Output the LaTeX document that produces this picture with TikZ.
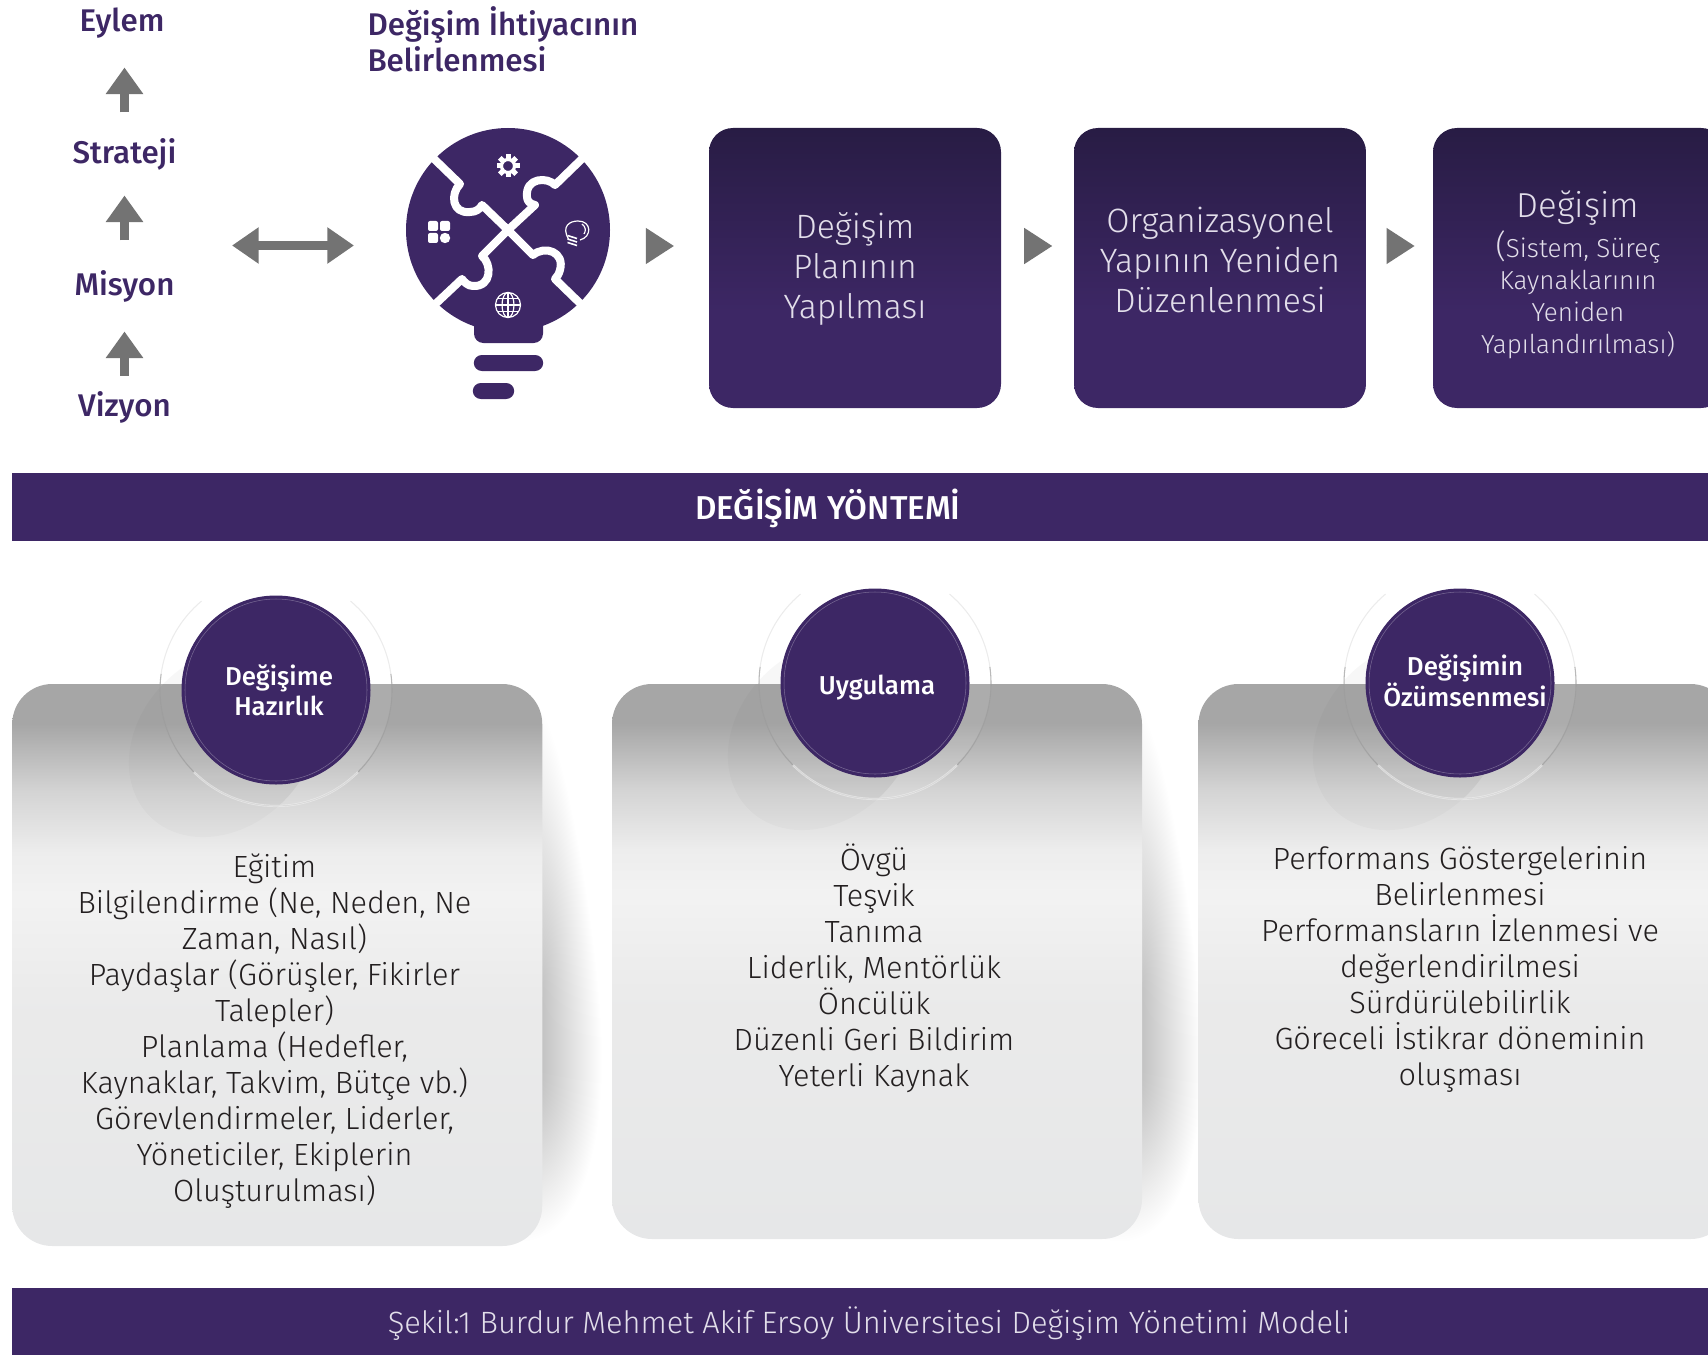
\documentclass[tikz,border=0pt]{standalone}
\usepackage{fontspec}
\setmainfont{Fira Sans Light}[BoldFont={Fira Sans Medium}]
\usetikzlibrary{arrows.meta}
\definecolor{morkoyu}{RGB}{61,39,101}
\definecolor{morkoyutop}{RGB}{40,28,68}
\definecolor{okgri}{RGB}{115,115,115}
\definecolor{yazisiyah}{RGB}{35,31,32}
\definecolor{kutuyazi}{RGB}{226,222,234}
\definecolor{kartalt}{RGB}{230,231,232}
\pgfdeclareverticalshading{kartgolge}{100bp}{color(0bp)=(kartalt); color(25bp)=(kartalt); color(47bp)=(black!8); color(56bp)=(black!5); color(60bp)=(black!7); color(65.5bp)=(black!17); color(71.5bp)=(black!35); color(75bp)=(black!35); color(100bp)=(black!35)}
\pgfdeclareverticalshading{kutugolge}{100bp}{color(0bp)=(morkoyu); color(42bp)=(morkoyu); color(75bp)=(morkoyutop); color(100bp)=(morkoyutop)}
\tikzset{
  every picture/.style={line width=0.75pt},
  kutu/.style={rounded corners=18pt,shading=kutugolge,minimum width=219pt,minimum height=210pt,inner sep=0pt},
  kart/.style={rounded corners=30pt,shading=kartgolge,inner sep=0pt},
  serit/.style={fill=morkoyu,inner sep=0pt},
  kutuyazisi/.style={align=center,text=kutuyazi,inner sep=0pt,font=\fontsize{25.3}{30}\selectfont},
  kartyazisi/.style={align=center,text=yazisiyah,inner sep=0pt,font=\fontsize{23}{27}\selectfont},
  baslik/.style={text=morkoyu,inner sep=0pt,font=\fontsize{23.5}{27}\selectfont\bfseries,text height=15pt,text depth=6pt},
  diskyazi/.style={align=center,text=white,inner sep=0pt,font=\fontsize{19.4}{22.5}\selectfont\bfseries},
  disk/.style={circle,fill=morkoyu,draw=morkoyu,minimum size=141pt,inner sep=0pt},
  yukariok/.style={draw=okgri,line width=7pt,-{Triangle[length=20pt,width=27pt]}},
  adimok/.style={draw=okgri,line width=1pt,-{Triangle[length=21pt,width=27pt]}},
  ikiyonok/.style={draw=okgri,line width=7pt,{Triangle[length=20pt,width=26pt]}-{Triangle[length=20pt,width=26pt]}},
  ikon/.style={white,line width=0.9pt}
}
\begin{document}
\begin{tikzpicture}[x=0.75pt,y=0.75pt,yscale=-1,xscale=1]
\useasboundingbox (0,0) rectangle (1708,1355);

% kart golgeleri
\foreach \sx in {0,600}{
  \foreach \w in {1,2,...,60}{
    \fill[black,opacity=0.0055] (530+\sx,1000-5*\w) .. controls (542+\sx+0.3*\w,1000-5*\w) and (542+\sx+\w,950) .. (542+\sx+\w,1060) .. controls (542+\sx+\w,1080+1.5*\w) and (540+\sx+0.5*\w,1110+2.5*\w) .. (500+\sx,1100+2.3*\w) -- cycle;
  }
}

% kartlar
\node[kart,minimum width=397.5pt,minimum height=421.5pt] (kartA) at (277.25,965) {};
\node[kart,minimum width=397.5pt,minimum height=416.25pt] (kartB) at (877,961.5) {};
\node[kart,minimum width=399pt,minimum height=416.25pt] (kartC) at (1464.5,961.5) {};

% diskler ve halkalar
\foreach \cx/\cy/\nm in {276/690/A,875/683/B,1460/683/C}{
  \begin{scope}
    \clip (\cx-200,684) rectangle (\cx+200,\cy+200);
    \fill[black,opacity=0.02,rotate around={-45:(\cx-52,\cy+52)}] (\cx-52,\cy+52) ellipse [x radius=105,y radius=84];
  \end{scope}
  \begin{scope}
    \clip (\cx,\cy) circle [radius=116];
    \fill[black,opacity=0.035,rotate around={-45:(\cx-52,\cy+52)}] (\cx-52,\cy+52) ellipse [x radius=105,y radius=84];
    \fill[white,opacity=0.08] (\cx-120,\cy-120) rectangle (\cx+120,\cy+120);
  \end{scope}
  \draw[black!30,opacity=0.25,line width=0.8pt] (\cx,\cy) ++(-50:116) arc [start angle=-50,end angle=230,radius=116];
  \draw[black!40,opacity=0.6,line width=0.8pt] (\cx,\cy) ++(-8:116) arc [start angle=-8,end angle=188,radius=116];
  \draw[white,opacity=0.55,line width=1.6pt] (\cx,\cy) ++(45:116) arc [start angle=45,end angle=135,radius=116];
  \node[disk] (disk\nm) at (\cx,\cy) {};
  \draw[white,opacity=0.3,line width=0.4pt] (\cx,\cy) circle [radius=91];
}
\node[diskyazi] (hazirlik) at (279,690) {Değişime\\Hazırlık};
\node[diskyazi] (uygulama) at (877,688) {Uygulama};
\node[diskyazi] (ozumseme) at (1465,681) {Değişimin\\Özümsenmesi};

% kart yazilari
\node[kartyazisi] (yaziA) at (274.5,1031) {Eğitim\\Bilgilendirme (Ne, Neden, Ne\\Zaman, Nasıl)\\Paydaşlar (Görüşler, Fikirler\\Talepler)\\Planlama (Hedefler,\\Kaynaklar, Takvim, Bütçe vb.)\\Görevlendirmeler, Liderler,\\Yöneticiler, Ekiplerin\\Oluşturulması)};
\node[kartyazisi] (yaziB) at (874,968) {Övgü\\Teşvik\\Tanıma\\Liderlik, Mentörlük\\Öncülük\\Düzenli Geri Bildirim\\Yeterli Kaynak};
\node[kartyazisi] (yaziC) at (1460,969) {Performans Göstergelerinin\\Belirlenmesi\\Performansların İzlenmesi ve\\değerlendirilmesi\\Sürdürülebilirlik\\Göreceli İstikrar döneminin\\oluşması};

% seritler
\node[serit,minimum width=1272pt,minimum height=51pt] (seritA) at (860,507) {};
\node[serit,minimum width=1272pt,minimum height=50.25pt] (seritB) at (860,1321.5) {};
\node[text=white,inner sep=0pt,font=\fontsize{24.8}{28}\selectfont\bfseries] (yontem) at (828,508) {DEĞİŞİM YÖNTEMİ};
\node[text=kutuyazi,inner sep=0pt,font=\fontsize{23.1}{27}\selectfont] (sekil) at (869,1324) {Şekil:1 Burdur Mehmet Akif Ersoy Üniversitesi Değişim Yönetimi Modeli};

% ust kutular
\node[kutu] (planlama) at (855,268) {};
\node[kutu] (yapi) at (1220,268) {};
\node[kutu] (degisim) at (1579,268) {};
\node[kutuyazisi] (planyazi) at (855,269) {Değişim\\Planının\\Yapılması};
\node[kutuyazisi] (yapiyazi) at (1220,260) {Organizasyonel\\Yapının Yeniden\\Düzenlenmesi};
\node[kutuyazisi,font=\fontsize{26}{30}\selectfont] (degisimyazi) at (1578,208) {Değişim};
\node[kutuyazisi,font=\fontsize{19.5}{24}\selectfont] (degisimalt) at (1578,295) {{\fontsize{24}{24}\selectfont(}Sistem, Süreç\\Kaynaklarının\\Yeniden\\Yapılandırılması)};

% sol sutun
\node[baslik] (eylem) at (122,26) {Eylem};
\node[baslik] (strateji) at (124.5,158) {Strateji};
\node[baslik] (misyon) at (124.5,289) {Misyon};
\node[baslik] (vizyon) at (124.5,410) {Vizyon};
\draw[yukariok,shorten <=15pt,shorten >=21pt] (vizyon.north) -- (misyon.south);
\draw[yukariok,shorten <=25.5pt,shorten >=17.25pt] (misyon.north) -- (strateji.south);
\draw[yukariok,shorten <=23.25pt,shorten >=20.25pt] (strateji.north) -- (eylem.south -| strateji.north);
\node[baslik,anchor=west,align=left,text height=,text depth=] (ihtiyac) at (367,39) {Değişim İhtiyacının\\Belirlenmesi};

% ampul
\node[circle,fill=morkoyu,minimum size=153pt,inner sep=0pt] (ampul) at (508,230) {};
\fill[morkoyu,rounded corners=7pt] (474,315) -- (543,315) -- (543,343) -- (474,343) -- cycle;
\node[fill=morkoyu,rounded corners=6pt,minimum width=52pt,minimum height=12pt,inner sep=0pt] (duy) at (508.5,363) {};
\node[fill=morkoyu,rounded corners=6pt,minimum width=31pt,minimum height=12pt,inner sep=0pt] (uc) at (493.5,391) {};
\begin{scope}[shift={(0,2)}]
\draw[white,line width=6pt,line join=round] (428,151) -- (460,182) .. controls (450,192) and (452,212) .. (470,210) .. controls (476,210) and (480,207) .. (482,203) -- (508,228);
\draw[white,line width=6pt,line join=round] (588,151) -- (555,183) .. controls (548,175) and (525,175) .. (527,195) .. controls (527,199) and (530,202) .. (535,203) -- (508,228);
\draw[white,line width=6pt,line join=round] (508,228) -- (533,253) .. controls (545,243) and (565,250) .. (560,268) .. controls (559,272) and (557,275) .. (555,277) -- (588,309);
\draw[white,line width=6pt,line join=round] (508,228) -- (482,254) .. controls (492,262) and (492,285) .. (473,284) .. controls (468,284) and (464,280) .. (462,277) -- (428,309);

% ikonlar
\draw[ikon,line width=2.4pt] (508,164) circle [radius=6.5];
\foreach \a in {0,45,...,315}{
  \fill[white,rotate around={\a:(508,164)}] (505.5,152.5) rectangle (510.5,157);
}
\fill[white,rounded corners=1.5pt] (428,219) rectangle (438,229);
\fill[white,rounded corners=1.5pt] (440,219) rectangle (450,229);
\fill[white,rounded corners=1.5pt] (428,231) rectangle (438,241);
\fill[white] (445,236) circle [radius=5.2];
\draw[ikon] (568.5,237) .. controls (561,224) and (570,219) .. (578,219) .. controls (592,219) and (592,235) .. (580,238);
\draw[ikon] (582,222) .. controls (586,225) and (586,229) .. (584,232);
\foreach \k in {0,3.5,7}{
  \draw[ikon,line width=1.2pt] (567.5,233.5+\k) -- (577,236.5+\k);
}
\draw[ikon] (508,303) circle [radius=12.5];
\draw[ikon] (508,303) ellipse [x radius=6,y radius=12.5];
\draw[ikon] (508,290.5) -- (508,315.5);
\draw[ikon] (495.5,303) -- (520.5,303);
\draw[ikon] (497.5,296.5) -- (518.5,296.5);
\draw[ikon] (497.5,309.5) -- (518.5,309.5);
\end{scope}

% oklar
\coordinate (okhizasi) at (0,246);
\coordinate (ciftsol) at (232,245.5);
\coordinate (ciftsag) at (354,245.5);
\draw[ikiyonok] (ciftsol) -- (ciftsag);
\draw[adimok,shorten <=26.5pt,shorten >=26pt] (ampul.east |- okhizasi) -- (planlama.west |- okhizasi);
\draw[adimok,shorten <=18pt,shorten >=16pt] (planlama.east |- okhizasi) -- (yapi.west |- okhizasi);
\draw[adimok,shorten <=15pt,shorten >=13.5pt] (yapi.east |- okhizasi) -- (degisim.west |- okhizasi);

\end{tikzpicture}
\end{document}
